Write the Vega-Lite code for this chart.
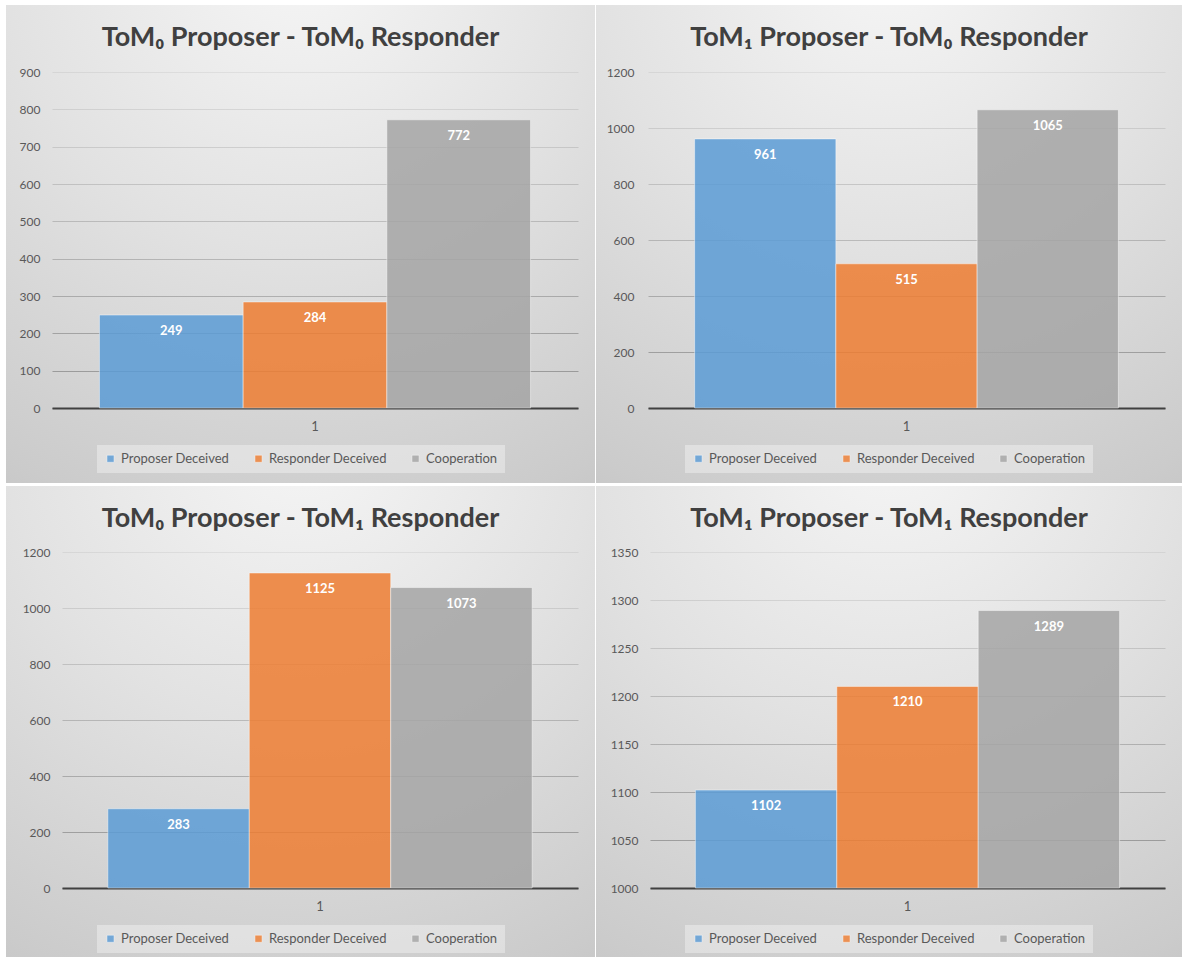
{
  "$schema": "https://vega.github.io/schema/vega-lite/v6.json",
  "background": "#ffffff",
  "padding": {"left": 6, "top": 5, "right": 0, "bottom": 0},
  "columns": 2,
  "spacing": {"row": 3, "column": 1},
  "resolve": {
    "scale": {"x": "independent", "y": "independent", "xOffset": "independent", "color": "independent"},
    "legend": {"color": "independent"}
  },
  "concat": [
    {
      "width": 589,
      "height": 478,
      "title": {"text": "ToM₀ Proposer - ToM₀ Responder"},
      "data": {"values": [
        {"round": "1", "outcome": "Proposer Deceived", "count": 249},
        {"round": "1", "outcome": "Responder Deceived", "count": 284},
        {"round": "1", "outcome": "Cooperation", "count": 772}
      ]},
      "encoding": {
        "x": {"field": "round", "type": "nominal", "title": null,
          "scale": {"range": [46, 572], "paddingInner": 0, "paddingOuter": 0.11},
          "axis": {"offset": -75}},
        "xOffset": {"field": "outcome", "type": "nominal", "sort": ["Proposer Deceived", "Responder Deceived", "Cooperation"],
          "scale": {"paddingInner": 0, "paddingOuter": 0}},
        "y": {"field": "count", "type": "quantitative", "title": null,
          "scale": {"domain": [0, 900], "range": [403, 67], "nice": false},
          "axis": {"offset": -46, "values": [0, 100, 200, 300, 400, 500, 600, 700, 800, 900],
            "gridOpacity": {"condition": [
              {"test": "datum.value >= 900", "value": 0.06},
              {"test": "datum.value >= 800", "value": 0.086},
              {"test": "datum.value >= 700", "value": 0.111},
              {"test": "datum.value >= 600", "value": 0.137},
              {"test": "datum.value >= 500", "value": 0.162},
              {"test": "datum.value >= 400", "value": 0.188},
              {"test": "datum.value >= 300", "value": 0.213},
              {"test": "datum.value >= 200", "value": 0.239},
              {"test": "datum.value >= 100", "value": 0.264}
            ], "value": 0.29}}}
      },
      "layer": [
        {"mark": {"type": "bar"},
         "encoding": {"color": {"field": "outcome", "type": "nominal", "title": null,
           "scale": {"domain": ["Proposer Deceived", "Responder Deceived", "Cooperation"], "range": ["#5b9bd5", "#ed7d31", "#a5a5a5"]},
           "legend": {"legendX": 91, "legendY": 440}}}},
        {"mark": {"type": "text", "baseline": "middle", "dy": 16},
         "encoding": {"text": {"field": "count", "type": "quantitative"}}}
      ]
    },
    {
      "width": 586,
      "height": 478,
      "title": {"text": "ToM₁ Proposer - ToM₀ Responder"},
      "data": {"values": [
        {"round": "1", "outcome": "Proposer Deceived", "count": 961},
        {"round": "1", "outcome": "Responder Deceived", "count": 515},
        {"round": "1", "outcome": "Cooperation", "count": 1065}
      ]},
      "encoding": {
        "x": {"field": "round", "type": "nominal", "title": null,
          "scale": {"range": [52, 569], "paddingInner": 0, "paddingOuter": 0.11},
          "axis": {"offset": -75}},
        "xOffset": {"field": "outcome", "type": "nominal", "sort": ["Proposer Deceived", "Responder Deceived", "Cooperation"],
          "scale": {"paddingInner": 0, "paddingOuter": 0}},
        "y": {"field": "count", "type": "quantitative", "title": null,
          "scale": {"domain": [0, 1200], "range": [403, 67], "nice": false},
          "axis": {"offset": -52, "labelPadding": 14, "values": [0, 200, 400, 600, 800, 1000, 1200],
            "gridOpacity": {"condition": [
              {"test": "datum.value >= 1200", "value": 0.06},
              {"test": "datum.value >= 1000", "value": 0.098},
              {"test": "datum.value >= 800", "value": 0.137},
              {"test": "datum.value >= 600", "value": 0.175},
              {"test": "datum.value >= 400", "value": 0.213},
              {"test": "datum.value >= 200", "value": 0.252}
            ], "value": 0.29}}}
      },
      "layer": [
        {"mark": {"type": "bar"},
         "encoding": {"color": {"field": "outcome", "type": "nominal", "title": null,
           "scale": {"domain": ["Proposer Deceived", "Responder Deceived", "Cooperation"], "range": ["#5b9bd5", "#ed7d31", "#a5a5a5"]},
           "legend": {"legendX": 89, "legendY": 440}}}},
        {"mark": {"type": "text", "baseline": "middle", "dy": 16},
         "encoding": {"text": {"field": "count", "type": "quantitative"}}}
      ]
    },
    {
      "width": 589,
      "height": 471,
      "title": {"text": "ToM₀ Proposer - ToM₁ Responder"},
      "data": {"values": [
        {"round": "1", "outcome": "Proposer Deceived", "count": 283},
        {"round": "1", "outcome": "Responder Deceived", "count": 1125},
        {"round": "1", "outcome": "Cooperation", "count": 1073}
      ]},
      "encoding": {
        "x": {"field": "round", "type": "nominal", "title": null,
          "scale": {"range": [56, 572], "paddingInner": 0, "paddingOuter": 0.108},
          "axis": {"offset": -69}},
        "xOffset": {"field": "outcome", "type": "nominal", "sort": ["Proposer Deceived", "Responder Deceived", "Cooperation"],
          "scale": {"paddingInner": 0, "paddingOuter": 0}},
        "y": {"field": "count", "type": "quantitative", "title": null,
          "scale": {"domain": [0, 1200], "range": [402, 66], "nice": false},
          "axis": {"offset": -56, "values": [0, 200, 400, 600, 800, 1000, 1200],
            "gridOpacity": {"condition": [
              {"test": "datum.value >= 1200", "value": 0.06},
              {"test": "datum.value >= 1000", "value": 0.098},
              {"test": "datum.value >= 800", "value": 0.137},
              {"test": "datum.value >= 600", "value": 0.175},
              {"test": "datum.value >= 400", "value": 0.213},
              {"test": "datum.value >= 200", "value": 0.252}
            ], "value": 0.29}}}
      },
      "layer": [
        {"mark": {"type": "bar"},
         "encoding": {"color": {"field": "outcome", "type": "nominal", "title": null,
           "scale": {"domain": ["Proposer Deceived", "Responder Deceived", "Cooperation"], "range": ["#5b9bd5", "#ed7d31", "#a5a5a5"]},
           "legend": {"legendX": 91, "legendY": 439}}}},
        {"mark": {"type": "text", "baseline": "middle", "dy": 16},
         "encoding": {"text": {"field": "count", "type": "quantitative"}}}
      ]
    },
    {
      "width": 586,
      "height": 471,
      "title": {"text": "ToM₁ Proposer - ToM₁ Responder"},
      "data": {"values": [
        {"round": "1", "outcome": "Proposer Deceived", "count": 1102},
        {"round": "1", "outcome": "Responder Deceived", "count": 1210},
        {"round": "1", "outcome": "Cooperation", "count": 1289}
      ]},
      "encoding": {
        "x": {"field": "round", "type": "nominal", "title": null,
          "scale": {"range": [54, 569], "paddingInner": 0, "paddingOuter": 0.107},
          "axis": {"offset": -69}},
        "xOffset": {"field": "outcome", "type": "nominal", "sort": ["Proposer Deceived", "Responder Deceived", "Cooperation"],
          "scale": {"paddingInner": 0, "paddingOuter": 0}},
        "y": {"field": "count", "type": "quantitative", "title": null,
          "scale": {"domain": [1000, 1350], "range": [402, 66], "nice": false, "zero": false},
          "axis": {"offset": -54, "values": [1000, 1050, 1100, 1150, 1200, 1250, 1300, 1350],
            "gridOpacity": {"condition": [
              {"test": "datum.value >= 1350", "value": 0.06},
              {"test": "datum.value >= 1300", "value": 0.093},
              {"test": "datum.value >= 1250", "value": 0.126},
              {"test": "datum.value >= 1200", "value": 0.159},
              {"test": "datum.value >= 1150", "value": 0.191},
              {"test": "datum.value >= 1100", "value": 0.224},
              {"test": "datum.value >= 1050", "value": 0.257}
            ], "value": 0.29}}}
      },
      "layer": [
        {"mark": {"type": "bar"},
         "encoding": {
           "y2": {"datum": 1000},
           "color": {"field": "outcome", "type": "nominal", "title": null,
           "scale": {"domain": ["Proposer Deceived", "Responder Deceived", "Cooperation"], "range": ["#5b9bd5", "#ed7d31", "#a5a5a5"]},
           "legend": {"legendX": 89, "legendY": 439}}}},
        {"mark": {"type": "text", "baseline": "middle", "dy": 16},
         "encoding": {"text": {"field": "count", "type": "quantitative"}}}
      ]
    }
  ],
  "config": {
    "font": "Lato",
    "view": {
      "stroke": null,
      "fill": {
        "gradient": "radial",
        "x1": 0.5, "y1": 0, "r1": 0,
        "x2": 0.5, "y2": 0, "r2": 1.12,
        "stops": [
          {"offset": 0, "color": "#f6f6f6"},
          {"offset": 0.45, "color": "#e2e2e2"},
          {"offset": 0.7, "color": "#d5d5d5"},
          {"offset": 0.89, "color": "#cbcbcb"},
          {"offset": 1, "color": "#c3c3c3"}
        ]
      }
    },
    "title": {
      "font": "Lato", "fontSize": 27, "fontWeight": "bold", "color": "#404040",
      "anchor": "middle", "frame": "group", "offset": -47, "baseline": "alphabetic"
    },
    "axis": {
      "labelFont": "Lato", "labelFontSize": 12, "labelColor": "#595959", "format": "d",
      "ticks": false, "tickSize": 0, "domain": false, "labelPadding": 12,
      "gridColor": "#000000", "gridWidth": 1
    },
    "axisX": {
      "domain": true, "domainColor": "#404040", "domainWidth": 2,
      "grid": false, "labelPadding": 12, "labelFontSize": 13, "labelAngle": 0, "zindex": 1
    },
    "axisY": {"grid": true},
    "legend": {
      "orient": "none", "direction": "horizontal", "columns": 3,
      "labelFont": "Lato", "labelFontSize": 13, "labelColor": "#595959",
      "symbolType": "square", "symbolSize": 50, "symbolStrokeWidth": 0, "symbolOpacity": 0.95,
      "labelOffset": 4, "columnPadding": 22, "padding": 7,
      "fillColor": "rgba(255,255,255,0.35)"
    },
    "bar": {"fillOpacity": 0.85, "stroke": "#ffffff", "strokeOpacity": 0.45, "strokeWidth": 1},
    "text": {"color": "#ffffff", "font": "Lato", "fontWeight": "bold", "fontSize": 13}
  }
}
